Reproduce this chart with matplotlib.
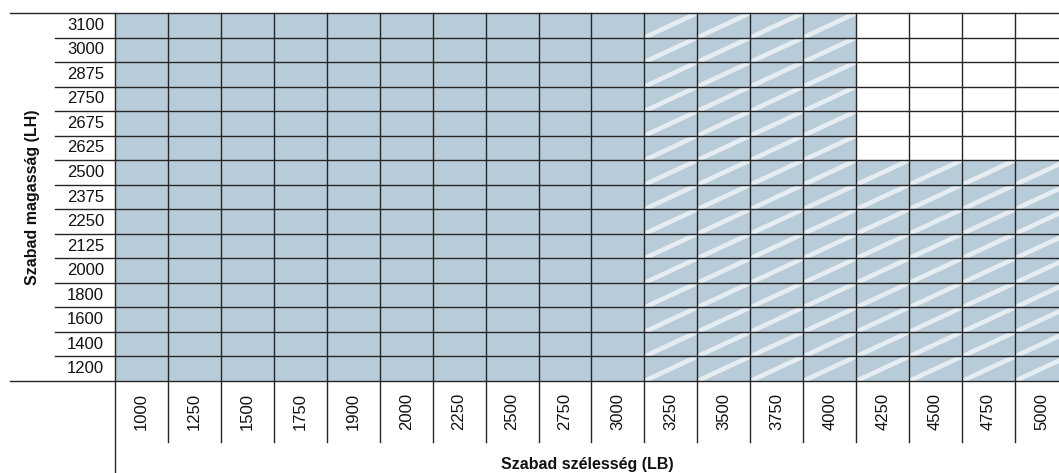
import matplotlib
matplotlib.use("Agg")
import matplotlib.pyplot as plt
from matplotlib.patches import Rectangle

# ---- data ----
widths = [1000, 1250, 1500, 1750, 1900, 2000, 2250, 2500, 2750, 3000,
          3250, 3500, 3750, 4000, 4250, 4500, 4750, 5000]
heights = [1200, 1400, 1600, 1800, 2000, 2125, 2250, 2375, 2500,
           2625, 2675, 2750, 2875, 3000, 3100]
max_height = [3100, 3100, 3100, 3100, 3100, 3100, 3100, 3100, 3100, 3100,
              3100, 3100, 3100, 3100, 2500, 2500, 2500, 2500]
hatched = [0, 0, 0, 0, 0, 0, 0, 0, 0, 0, 1, 1, 1, 1, 1, 1, 1, 1]

FILL = "#b8cbd8"
STRIPE = "#e6edf2"
LINE = "#262626"

W, H = 1059, 473
fig = plt.figure(figsize=(W / 100, H / 100), dpi=100)
plt.rcParams['font.family'] = ['Liberation Sans', 'DejaVu Sans']

gx0, gx1 = 115, 115 + 18 * 52.94
gy_top, gy_bot = 13, 381
ax = fig.add_axes([gx0 / W, (H - gy_bot) / H, (gx1 - gx0) / W, (gy_bot - gy_top) / H])
ncol, nrow = len(widths), len(heights)
ax.set_xlim(0, ncol)
ax.set_ylim(0, nrow)
ax.axis("off")

cw = (gx1 - gx0) / ncol
rh = (gy_bot - gy_top) / nrow


def px_x(px):
    return (px - gx0) / cw


def px_y(py):
    return (gy_bot - py) / rh


# cells
for i, w in enumerate(widths):
    filled = [j for j, h in enumerate(heights) if h <= max_height[i]]
    ax.bar(i, len(filled), bottom=0, width=1, align="edge", color=FILL,
           linewidth=0, zorder=1)
    if hatched[i]:
        for j in filled:
            clip = Rectangle((i, j), 1, 1, transform=ax.transData)
            ln, = ax.plot([i, i + 1], [j, j + 1], color=STRIPE, lw=3.3,
                          solid_capstyle="butt", zorder=2)
            ln.set_clip_path(clip)

# horizontal grid lines
for k in range(nrow + 1):
    left = px_x(10) if k in (0, nrow) else px_x(55)
    ax.plot([left, ncol], [k, k], color=LINE, lw=1.0, clip_on=False, zorder=3)

# vertical grid lines
for k in range(ncol + 1):
    bottom = px_y(473) if k == 0 else px_y(442)
    ax.plot([k, k], [bottom, nrow], color=LINE, lw=1.0, clip_on=False, zorder=3)

# row labels
for j, h in enumerate(heights):
    ax.text(px_x(104), j + 0.5, str(h), ha="right", va="center", fontsize=12,
            color="#111111", clip_on=False)

# column labels
for i, w in enumerate(widths):
    ax.text(i + 0.5, px_y(411), str(w), ha="center", va="center", rotation=90,
            fontsize=12, color="#111111", clip_on=False)

ax.text(px_x(587), px_y(464), "Szabad szélesség (LB)", ha="center", va="center",
        fontsize=11.5, fontweight="bold", color="#111111", clip_on=False)
ax.text(px_x(32), nrow / 2, "Szabad magasság (LH)", ha="center", va="center",
        rotation=90, fontsize=11.5, fontweight="bold", color="#111111", clip_on=False)

fig.savefig("out.png", dpi=100)
